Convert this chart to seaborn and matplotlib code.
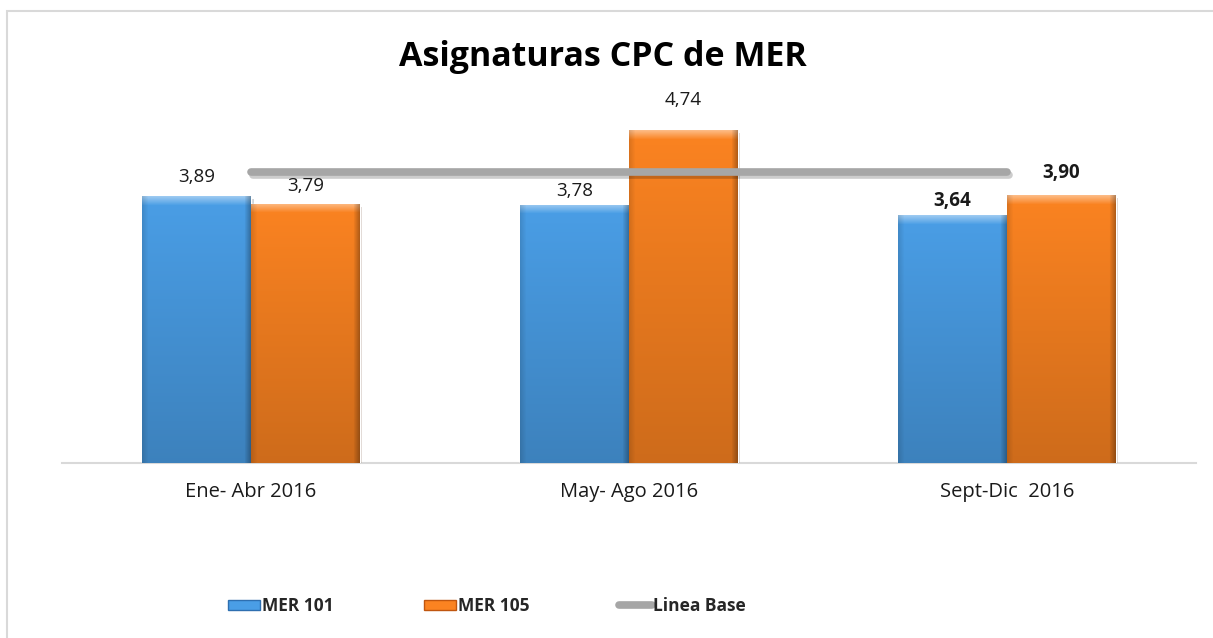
import numpy as np
import pandas as pd
import matplotlib
matplotlib.use("Agg")
import matplotlib.pyplot as plt
import matplotlib.patheffects as pe
from matplotlib.patches import Patch, Rectangle
from matplotlib.lines import Line2D
from matplotlib.colors import to_rgb
import seaborn as sns

# data
periodos = ["Ene- Abr 2016", "May- Ago 2016", "Sept-Dic  2016"]
series = ["MER 101", "MER 105"]
mer_101 = [3.89, 3.78, 3.64]
mer_105 = [3.79, 4.74, 3.90]
linea_base = [4.2, 4.2, 4.2]

df = pd.DataFrame({
    "Periodo": periodos * 2,
    "Serie": [series[0]] * 3 + [series[1]] * 3,
    "Valor": mer_101 + mer_105,
})

# style
azul = "#4A9EE6"
naranja = "#FB8321"
gris = "#A6A6A6"
label_pad = [[19, 14, 14], [18, 30, 22]]   # px above the bar top
label_bold = [False, False, True]

sns.set_style("white")
plt.rcParams["font.family"] = ["Open Sans", "DejaVu Sans"]

W, H = 1213, 638
fig = plt.figure(figsize=(W / 100, H / 100), dpi=100)
ax = fig.add_axes([62 / W, 175 / H, (1196 - 62) / W, (463 - 100) / H])

sns.barplot(data=df, x="Periodo", y="Valor", hue="Serie", palette=[azul, naranja],
            width=0.575, gap=0, saturation=1, legend=False, ax=ax, zorder=2)

ymin, ymax = 0.45, 0.45 + 363 / 77.6
px = 77.6  # pixels per unit


def shade(color, h):
    # vertical gradient with a light bevel at the top and darker sides
    n = max(int((h - ymin) * px), 10)
    c = np.array(to_rgb(color))
    t = np.linspace(0, 1, n)[:, None]
    col = c * (1 - 0.18 * t)
    bevel = np.linspace(0.45, 0.05, 9)[:, None]
    col[:9] = col[:9] + (1 - col[:9]) * bevel
    img = np.repeat(col[:, None, :], 108, axis=1)
    for k in range(6):
        img[:, k] *= 0.88 + 0.02 * k
        img[:, -1 - k] *= 0.72 + 0.045 * k
    return np.clip(img, 0, 1)


for i, cont in enumerate(ax.containers):
    color = [azul, naranja][i]
    for j, bar in enumerate(cont):
        x, w, h = bar.get_x(), bar.get_width(), bar.get_height()
        bar.set_path_effects([pe.SimplePatchShadow(offset=(2, -2), alpha=0.2), pe.Normal()])
        im = ax.imshow(shade(color, h), extent=[x, x + w, ymin, h], aspect="auto",
                       zorder=2.5, interpolation="bilinear")
        im.set_clip_path(bar)
        txt = f"{h:.2f}".replace(".", ",")
        ax.annotate(txt, (x + w / 2, h), xytext=(0, label_pad[i][j] * 0.72),
                    textcoords="offset points", ha="center", va="center",
                    fontsize=13.5, fontweight="bold" if label_bold[j] else "normal",
                    color="#1a1a1a", zorder=4)

ax.set_xlim(-0.5, 2.5)
ax.set_ylim(ymin, ymax)

ax.plot(range(len(periodos)), linea_base, color=gris, lw=5.5, solid_capstyle="round",
        zorder=3, path_effects=[pe.SimpleLineShadow(offset=(1.5, -2), alpha=0.2), pe.Normal()])

ax.set_xlabel("")
ax.set_ylabel("")
ax.set_yticks([])
ax.tick_params(axis="x", length=0, pad=14, labelsize=14.5, labelcolor="#1a1a1a")
for s in ["top", "right", "left"]:
    ax.spines[s].set_visible(False)
ax.spines["bottom"].set_color("#D9D9D9")
ax.spines["bottom"].set_linewidth(1.5)
ax.spines["bottom"].set_zorder(1)

fig.text(603 / W, (H - 66) / H, "Asignaturas CPC de MER", ha="center", va="baseline",
         fontsize=24.5, fontweight="bold", color="black")

handles = [
    Patch(facecolor=azul, edgecolor="#2E6FB0", lw=1),
    Patch(facecolor=naranja, edgecolor="#C0560F", lw=1),
    Line2D([0], [0], color=gris, lw=5.5, solid_capstyle="round"),
]
leg = fig.legend(handles, series + ["Linea Base"], loc="center", ncol=3,
                 bbox_to_anchor=(487 / W, (H - 606) / H), frameon=False,
                 handlelength=1.85, handleheight=0.55, handletextpad=0.1, columnspacing=5.2,
                 prop={"weight": "bold", "size": 12.5})

fig.patches.append(Rectangle((7 / W, -0.1), 1.2, (H - 11) / H + 0.1, transform=fig.transFigure,
                             fill=False, edgecolor="#D9D9D9", lw=1.5))

fig.savefig("out.png", dpi=100)
